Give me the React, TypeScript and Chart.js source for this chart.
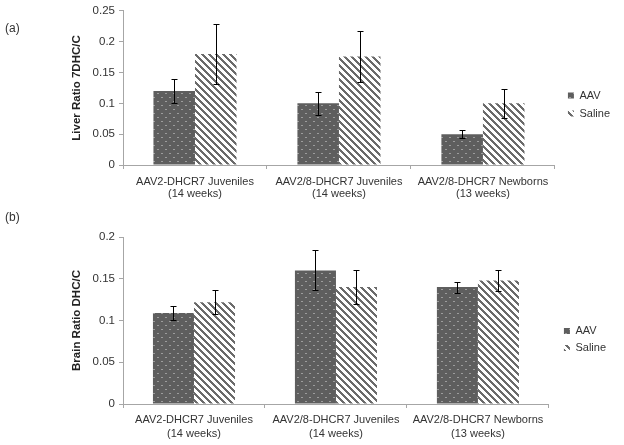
import React, { useEffect, useRef } from "react";
import { Chart, registerables } from "chart.js";

Chart.register(...registerables);

// ---------- data ----------
const categories: string[][] = [
  ["AAV2-DHCR7 Juveniles", "(14 weeks)"],
  ["AAV2/8-DHCR7 Juveniles", "(14 weeks)"],
  ["AAV2/8-DHCR7 Newborns", "(13 weeks)"],
];
const seriesNames = ["AAV", "Saline"];

const liverAAV = [0.12, 0.1, 0.05];
const liverAAVErr = [0.019, 0.019, 0.006];
const liverSaline = [0.18, 0.176, 0.1];
const liverSalineErr = [0.048, 0.042, 0.024];
const liverTicks = [0, 0.05, 0.1, 0.15, 0.2, 0.25];

const brainAAV = [0.109, 0.16, 0.14];
const brainAAVErr = [0.008, 0.024, 0.0066];
const brainSaline = [0.122, 0.14, 0.148];
const brainSalineErr = [0.0145, 0.02, 0.0125];
const brainTicks = [0, 0.05, 0.1, 0.15, 0.2];

const FONT = "'Liberation Sans', Arial, sans-serif";
const AXIS_COLOR = "#a6a6a6";
const TEXT_COLOR = "#333333";

// ---------- patterns ----------
function dotPattern(): CanvasPattern | string {
  const c = document.createElement("canvas");
  c.width = 8;
  c.height = 8;
  const g = c.getContext("2d");
  if (!g) return "#5e5e5e";
  g.fillStyle = "#5e5e5e";
  g.fillRect(0, 0, 8, 8);
  g.fillStyle = "#9c9c9c";
  g.fillRect(1, 1, 2, 1);
  g.fillRect(5, 5, 2, 1);
  return g.createPattern(c, "repeat") || "#5e5e5e";
}

function stripePattern(): CanvasPattern | string {
  const P = 7;
  const c = document.createElement("canvas");
  c.width = P;
  c.height = P;
  const g = c.getContext("2d");
  if (!g) return "#6b6b6b";
  const img = g.createImageData(P, P);
  for (let y = 0; y < P; y++) {
    for (let x = 0; x < P; x++) {
      const d = (((x - y) % P) + P) % P;
      const i = (y * P + x) * 4;
      const v = d < 3 ? 107 : 255;
      img.data[i] = v;
      img.data[i + 1] = v;
      img.data[i + 2] = v;
      img.data[i + 3] = 255;
    }
  }
  g.putImageData(img, 0, 0);
  return g.createPattern(c, "repeat") || "#6b6b6b";
}

// ---------- plugins ----------
const errorBarPlugin = {
  id: "errorBars",
  afterDatasetsDraw(chart: any) {
    const ctx = chart.ctx;
    const yScale = chart.scales.y;
    chart.data.datasets.forEach((ds: any, i: number) => {
      const errs: number[] | undefined = ds.errors;
      if (!errs) return;
      const meta = chart.getDatasetMeta(i);
      meta.data.forEach((bar: any, j: number) => {
        const v = ds.data[j] as number;
        const e = errs[j];
        const yt = Math.round(yScale.getPixelForValue(v + e)) + 0.5;
        const yb = Math.round(yScale.getPixelForValue(v - e)) + 0.5;
        const x = Math.round(bar.x) + 0.5;
        ctx.save();
        ctx.strokeStyle = "#000";
        ctx.lineWidth = 1;
        ctx.beginPath();
        ctx.moveTo(x, yt);
        ctx.lineTo(x, yb);
        ctx.moveTo(x - 3, yt);
        ctx.lineTo(x + 3, yt);
        ctx.moveTo(x - 3, yb);
        ctx.lineTo(x + 3, yb);
        ctx.stroke();
        ctx.restore();
      });
    });
  },
};

const legendShiftPlugin = {
  id: "legendShift",
  afterLayout(chart: any, _args: any, opts: any) {
    const l = chart.legend;
    if (!l) return;
    const dx = opts?.dx || 0;
    const dy = opts?.dy || 0;
    l.left += dx;
    l.right += dx;
    l.top += dy;
    l.bottom += dy;
  },
};

type PanelProps = {
  top: number;
  height: number;
  aav: number[];
  aavErr: number[];
  saline: number[];
  salineErr: number[];
  ticks: number[];
  title: string;
  padTop: number;
  padRight: number;
  xHeight: number;
  xPad: number;
  xLineHeight: number;
  legendPad: number;
  legendDx: number;
  legendDy: number;
  catPct: number;
};

function Panel(p: PanelProps) {
  const ref = useRef<HTMLCanvasElement | null>(null);
  useEffect(() => {
    if (!ref.current) return;
    const dots = dotPattern();
    const stripes = stripePattern();
    const chart = new Chart(ref.current, {
      type: "bar",
      data: {
        labels: categories,
        datasets: [
          {
            label: seriesNames[0],
            data: p.aav,
            backgroundColor: dots as any,
            borderWidth: 0,
            categoryPercentage: p.catPct,
            barPercentage: 1,
            errors: p.aavErr,
          } as any,
          {
            label: seriesNames[1],
            data: p.saline,
            backgroundColor: stripes as any,
            borderWidth: 0,
            categoryPercentage: p.catPct,
            barPercentage: 1,
            errors: p.salineErr,
          } as any,
        ],
      },
      options: {
        responsive: false,
        animation: false,
        layout: { padding: { left: 66, top: p.padTop, right: p.padRight, bottom: 0 } },
        plugins: {
          legend: {
            position: "right",
            labels: {
              boxWidth: 6,
              boxHeight: 6,
              padding: p.legendPad,
              color: TEXT_COLOR,
              font: { family: FONT, size: 11 },
            },
          },
          tooltip: { enabled: false },
          legendShift: { dx: p.legendDx, dy: p.legendDy },
        } as any,
        scales: {
          x: {
            grid: {
              display: true,
              offset: true,
              drawOnChartArea: false,
              drawTicks: true,
              tickLength: 4,
              color: AXIS_COLOR,
            },
            border: { display: true, color: AXIS_COLOR },
            ticks: {
              color: TEXT_COLOR,
              font: { family: FONT, size: 11, lineHeight: p.xLineHeight },
              padding: p.xPad,
              maxRotation: 0,
              autoSkip: false,
            },
            afterFit: (s: any) => {
              s.height = p.xHeight;
            },
          },
          y: {
            min: p.ticks[0],
            max: p.ticks[p.ticks.length - 1],
            grid: {
              display: true,
              drawOnChartArea: false,
              drawTicks: true,
              tickLength: 4,
              color: AXIS_COLOR,
            },
            border: { display: true, color: AXIS_COLOR },
            ticks: {
              color: TEXT_COLOR,
              font: { family: FONT, size: 11.5 },
              padding: 4,
              callback: (v: any) => String(v),
            },
            afterBuildTicks: (s: any) => {
              s.ticks = p.ticks.map((v) => ({ value: v }));
            },
            afterFit: (s: any) => {
              s.width = 57;
            },
            title: {
              display: true,
              text: p.title,
              color: "#222222",
              font: { family: FONT, size: 11.5, weight: "bold" },
            },
          },
        },
      },
      plugins: [errorBarPlugin, legendShiftPlugin],
    });
    return () => chart.destroy();
  }, []);
  return (
    <canvas
      ref={ref}
      width={624}
      height={p.height}
      style={{ position: "absolute", left: 0, top: p.top, width: 624, height: p.height, display: "block" }}
    />
  );
}

const labelStyle: React.CSSProperties = {
  position: "absolute",
  left: 5,
  fontFamily: FONT,
  fontSize: 12,
  color: TEXT_COLOR,
  lineHeight: "14px",
};

export default function App() {
  return (
    <div
      style={{
        position: "absolute",
        left: 0,
        top: 0,
        width: 624,
        height: 445,
        overflow: "hidden",
        background: "#ffffff",
      }}
    >
      <Panel
        top={0}
        height={200}
        aav={liverAAV}
        aavErr={liverAAVErr}
        saline={liverSaline}
        salineErr={liverSalineErr}
        ticks={liverTicks}
        title="Liver Ratio 7DHC/C"
        padTop={9}
        padRight={10}
        xHeight={35}
        xPad={7}
        xLineHeight={1.06}
        legendPad={7}
        legendDx={6}
        legendDy={0}
        catPct={0.577}
      />
      <Panel
        top={200}
        height={245}
        aav={brainAAV}
        aavErr={brainAAVErr}
        saline={brainSaline}
        salineErr={brainSalineErr}
        ticks={brainTicks}
        title="Brain Ratio DHC/C"
        padTop={37}
        padRight={17}
        xHeight={41}
        xPad={5}
        xLineHeight={1.27}
        legendPad={6}
        legendDx={9}
        legendDy={-1.5}
        catPct={0.578}
      />
      <div style={{ ...labelStyle, top: 21 }}>(a)</div>
      <div style={{ ...labelStyle, top: 210 }}>(b)</div>
    </div>
  );
}
